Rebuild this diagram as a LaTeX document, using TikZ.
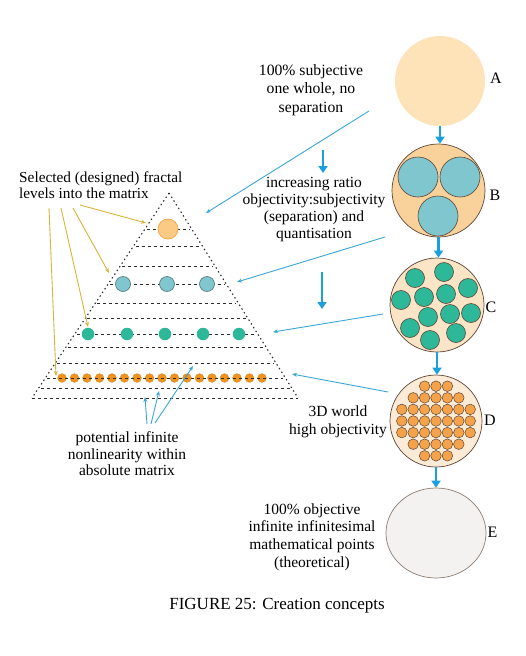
\documentclass[tikz,border=0pt]{standalone}
\usepackage{fontspec}
\setmainfont{Liberation Serif}
\usetikzlibrary{arrows.meta,calc,shapes.geometric}
\definecolor{Afill}{HTML}{FDE3B7}
\definecolor{Bfill}{HTML}{F9D19A}
\definecolor{Bteal}{HTML}{7FC6CF}
\definecolor{Cfill}{HTML}{FCE4C6}
\definecolor{Cteal}{HTML}{2DB899}
\definecolor{Dfill}{HTML}{FCEBD6}
\definecolor{Dorange}{HTML}{F5A34B}
\definecolor{Efill}{HTML}{F3F2F0}
\definecolor{rim}{HTML}{5E4637}
\definecolor{bigblue}{HTML}{1C9FE0}
\definecolor{thinblue}{HTML}{3BA6D6}
\definecolor{gold}{HTML}{D9B43C}
\definecolor{pyr}{HTML}{2A2A2A}
\definecolor{smallor}{HTML}{F0921E}
\definecolor{topfill}{HTML}{FBCB86}
\definecolor{toprim}{HTML}{EFA83F}
\begin{document}
\begin{tikzpicture}[x=1pt,y=-1pt,
  txt/.style={font=\fontsize{15.5}{18}\selectfont, align=center, inner sep=0pt},
  letter/.style={font=\fontsize{16}{18}\selectfont, inner sep=0pt},
  bigcirc/.style={circle, draw=rim, line width=0.7pt, inner sep=0pt},
  bigarrow/.style={bigblue, line width=2.2pt, -{Triangle[length=7pt,width=9pt]}},
  thinarrow/.style={thinblue, line width=0.9pt, -{Stealth[length=5pt,width=4pt]}},
  goldarrow/.style={gold, line width=0.9pt, -{Stealth[length=5pt,width=4pt]}},
  hline/.style={pyr, line width=1pt, dash pattern=on 3pt off 3pt},
  edge/.style={pyr, line width=1.1pt, dash pattern=on 1.4pt off 3pt},
  cdot/.style={circle, draw=rim, line width=0.6pt, inner sep=0pt},
]
\useasboundingbox[fill=white] (0,0) rectangle (525,656);

% ---------- right column of circles ----------
\node[circle, fill=Afill, minimum size=90pt, inner sep=0pt] (A) at (440,81) {};
\node[bigcirc, fill=Bfill, minimum size=93pt] (B) at (438.5,190.5) {};
\node[cdot, fill=Bteal, minimum size=40pt] (B1) at (418,177) {};
\node[cdot, fill=Bteal, minimum size=40pt] (B2) at (460,177) {};
\node[cdot, fill=Bteal, minimum size=40pt] (B3) at (438,216) {};

\node[bigcirc, fill=Cfill, minimum size=94pt] (C) at (437,305) {};
\foreach \i/\x/\y in {1/415/278,2/444/272,3/468/288,4/401/300,5/424/297,6/446/294,
                      7/428/317,8/450/314,9/471/313,10/410/328,11/430/340,12/456/333}
  \node[cdot, fill=Cteal, minimum size=19pt] (c\i) at (\x,\y) {};

\node[bigcirc, fill=Dfill, minimum size=92pt] (D) at (436,421) {};
\foreach \r/\n in {-3/1,-2/2,-1/3,0/3,1/3,2/2,3/1} {
  \pgfmathtruncatemacro\lo{-\n}
  \foreach \c in {\lo,...,\n}
    \node[cdot, fill=Dorange, minimum size=10.6pt, line width=0.5pt] (d\r\c) at ($(D.center)+(\c*11.4,\r*11.6)$) {};
}

\node[ellipse, draw=rim!70, line width=0.7pt, fill=Efill, minimum width=100pt, minimum height=90pt, inner sep=0pt] (E) at (436,533) {};

\node[letter] (LA) at (496,78) {A};
\node[letter] (LB) at (495,195) {B};
\node[letter] (LC) at (491,307) {C};
\node[letter] (LD) at (490,420) {D};
\node[letter] (LE) at (492.5,532) {E};

\draw[bigarrow] (A.south) -- (A.south |- B.north);
\draw[bigarrow] (B.south) -- (B.south |- C.north);
\draw[bigarrow] (C.south) -- (C.south |- D.north);
\draw[bigarrow] (D.south) -- (D.south |- E.north);

% ---------- texts ----------
\node[txt, font=\fontsize{15.7}{18.5}\selectfont] (T1) at (311,90) {100\% subjective\\one whole, no\\separation};
\node[txt, font=\fontsize{15.5}{17}\selectfont] (T2) at (314,210) {increasing ratio\\objectivity:subjectivity\\(separation) and\\quantisation};
\node[txt, font=\fontsize{15.5}{17.5}\selectfont] (T3) at (338,422) {3D world\\high objectivity};
\node[txt, font=\fontsize{15.5}{17.7}\selectfont] (T4) at (312,537) {100\% objective\\infinite infinitesimal\\mathematical points\\(theoretical)};
\node[txt, font=\fontsize{15.5}{16.5}\selectfont] (T5) at (127,454) {potential infinite\\nonlinearity within\\absolute matrix};
\node[txt, align=left, anchor=west, font=\fontsize{15.3}{16}\selectfont] (T6) at (19,185) {Selected (designed) fractal\\levels into the matrix};
\node[font=\fontsize{17}{20}\selectfont, inner sep=0pt] (cap) at (277,606) {FIGURE 25: Creation concepts};

% ---------- pyramid ----------
\coordinate (apex) at (169,193);
\coordinate (bl) at (32,398);
\coordinate (br) at (298,398);

% small orange row (under the line)
\foreach \i/\x in {1/62,2/74.5,3/87,4/99.5,5/112,6/124.5,7/137,8/149.5,9/162,10/174.5,11/187,12/199.5,13/212,14/224.5,15/237,16/249.5,17/262}
  \node[circle, fill=smallor, draw=smallor!90!black, line width=0.3pt, minimum size=8.8pt, inner sep=0pt] (o\i) at (\x,378) {};

\foreach \y in {229,246,266,284,303,318,334,347,363,378,388} {
  \pgfmathsetmacro\xl{169-(\y-193)/205*137+2}
  \pgfmathsetmacro\xr{169+(\y-193)/205*129-2}
  \draw[hline] (\xl,\y) -- (\xr,\y);
}
\draw[hline] (bl) -- (br);
\draw[edge] (apex) -- (bl);
\draw[edge] (apex) -- (br);

\node[circle, fill=topfill, draw=toprim, line width=0.7pt, minimum size=20pt, inner sep=0pt] (p1) at (168,229) {};
\foreach \i/\x in {1/123,2/167,3/207}
  \node[circle, fill=Bteal, draw=Bteal!60!black, line width=0.6pt, minimum size=15pt, inner sep=0pt] (pb\i) at (\x,284) {};
\foreach \i/\x in {1/88,2/127,3/165,4/203,5/239}
  \node[circle, fill=Cteal, minimum size=12.5pt, inner sep=0pt] (pt\i) at (\x,334) {};

% ---------- connectors ----------
\coordinate (s1) at (369,111);  \coordinate (e1) at (206,213);
\coordinate (s2) at (385,237);  \coordinate (e2) at (237,282);
\coordinate (s3) at (383,314);  \coordinate (e3) at (273,332);
\coordinate (s4) at (388,392);  \coordinate (e4) at (292,374);
\draw[thinarrow] (s1) -- (e1);
\draw[thinarrow] (s2) -- (e2);
\draw[thinarrow] (s3) -- (e3);
\draw[thinarrow] (s4) -- (e4);

\coordinate (u1) at (147,424); \coordinate (v1) at (145,397);
\coordinate (u2) at (151,424); \coordinate (v2) at (159,391);
\coordinate (u3) at (155,423); \coordinate (v3) at (193,366);
\draw[thinarrow] (u1) -- (v1);
\draw[thinarrow] (u2) -- (v2);
\draw[thinarrow] (u3) -- (v3);

\coordinate (g1) at (80,205);  \coordinate (h1) at (146,223);
\coordinate (g2) at (73,208);  \coordinate (h2) at (109,273);
\coordinate (g3) at (61,208);  \coordinate (h3) at (88,327);
\coordinate (g4) at (49,208);  \coordinate (h4) at (56,376);
\draw[goldarrow] (g1) -- (h1);
\draw[goldarrow] (g2) -- (h2);
\draw[goldarrow] (g3) -- (h3);
\draw[goldarrow] (g4) -- (h4);

\coordinate (m1) at (323,150); \coordinate (n1) at (323,173);
\coordinate (m2) at (322,272); \coordinate (n2) at (322,309);
\draw[bigarrow] (m1) -- (n1);
\draw[bigarrow] (m2) -- (n2);
\end{tikzpicture}
\end{document}
